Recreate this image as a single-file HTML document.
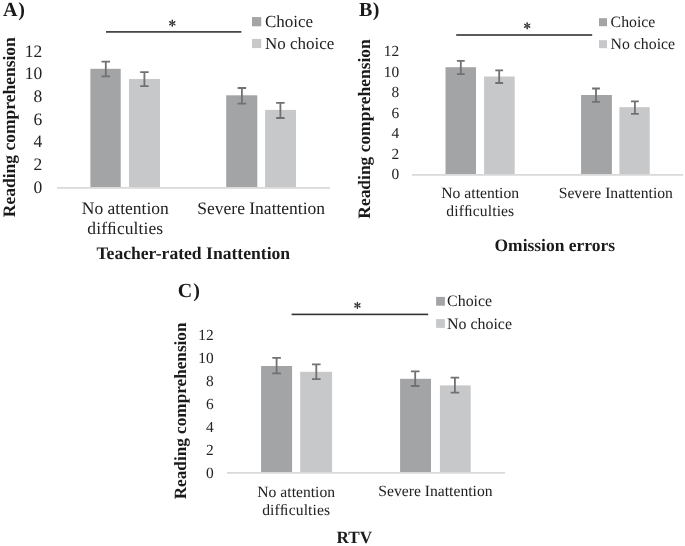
<!DOCTYPE html>
<html><head><meta charset="utf-8"><style>
html,body{margin:0;padding:0;background:#fff;width:685px;height:546px;overflow:hidden}
svg{display:block}
svg{will-change:transform}
text{text-rendering:geometricPrecision}
.r{font-family:"Liberation Serif",serif;fill:#222222}
.b{font-family:"Liberation Serif",serif;font-weight:bold;fill:#1a1a1a}
</style></head><body>
<svg width="685" height="546" viewBox="0 0 685 546">
<text x="2.9" y="15.8" class="b" font-size="20">A<tspan dx="0.9">)</tspan></text>
<text transform="translate(42.2,56.52) scale(1,1.0)" class="r" text-anchor="end" font-size="17.5">12</text>
<text transform="translate(42.2,79.23) scale(1,1.0)" class="r" text-anchor="end" font-size="17.5">10</text>
<text transform="translate(42.2,101.95) scale(1,1.0)" class="r" text-anchor="end" font-size="17.5">8</text>
<text transform="translate(42.2,124.67) scale(1,1.0)" class="r" text-anchor="end" font-size="17.5">6</text>
<text transform="translate(42.2,147.39) scale(1,1.0)" class="r" text-anchor="end" font-size="17.5">4</text>
<text transform="translate(42.2,170.11) scale(1,1.0)" class="r" text-anchor="end" font-size="17.5">2</text>
<text transform="translate(42.2,192.83) scale(1,1.0)" class="r" text-anchor="end" font-size="17.5">0</text>
<rect x="57" y="187" width="273" height="1.8" fill="#dadada"/>
<rect x="90.4" y="68.8" width="30.3" height="118.2" fill="#a3a4a6"/>
<rect x="129" y="79" width="31" height="108" fill="#c7c8ca"/>
<rect x="226.2" y="95.3" width="31.1" height="91.7" fill="#a3a4a6"/>
<rect x="265.1" y="109.9" width="30.9" height="77.1" fill="#c7c8ca"/>
<path d="M105.8 61.6V76.3M101.55 61.6H110.05M101.55 76.3H110.05" stroke="#717171" stroke-width="1.8" fill="none"/>
<path d="M144.4 72.1V86.1M140.15 72.1H148.65M140.15 86.1H148.65" stroke="#717171" stroke-width="1.8" fill="none"/>
<path d="M241.9 88V103.6M237.65 88H246.15M237.65 103.6H246.15" stroke="#717171" stroke-width="1.8" fill="none"/>
<path d="M280.4 102.9V118M276.15 102.9H284.65M276.15 118H284.65" stroke="#717171" stroke-width="1.8" fill="none"/>
<rect x="106" y="31.1" width="135.4" height="1.6" fill="#333333"/>
<path d="M172.3 20.15L172.3 26.35M169.62 21.7L174.98 24.8M174.98 21.7L169.62 24.8" stroke="#3a3a3a" stroke-width="1" stroke-linecap="round" fill="none"/>
<ellipse cx="172.3" cy="20.95" rx="0.75" ry="1.1" transform="rotate(0 172.3 20.95)" fill="#333"/>
<ellipse cx="174.29" cy="22.1" rx="0.75" ry="1.1" transform="rotate(60 174.29 22.1)" fill="#333"/>
<ellipse cx="170.31" cy="22.1" rx="0.75" ry="1.1" transform="rotate(-60 170.31 22.1)" fill="#333"/>
<ellipse cx="172.3" cy="25.55" rx="0.75" ry="1.1" transform="rotate(-180 172.3 25.55)" fill="#333"/>
<ellipse cx="170.31" cy="24.4" rx="0.75" ry="1.1" transform="rotate(-120 170.31 24.4)" fill="#333"/>
<ellipse cx="174.29" cy="24.4" rx="0.75" ry="1.1" transform="rotate(-240 174.29 24.4)" fill="#333"/>
<rect x="252" y="17.1" width="9.2" height="9.2" fill="#a3a4a6"/>
<rect x="252" y="38.9" width="9.2" height="9.2" fill="#c7c8ca"/>
<text transform="translate(265,27.3) scale(1,1.0)" class="r" font-size="17">Choice</text>
<text transform="translate(265,48.9) scale(1,1.0)" class="r" font-size="17">No choice</text>
<text transform="translate(125.3,213.7) scale(1,1.0)" class="r" text-anchor="middle" font-size="17.5">No attention</text>
<text letter-spacing="0.1" transform="translate(125.3,233.7) scale(1,1.0)" class="r" text-anchor="middle" font-size="17.5">difﬁculties</text>
<text transform="translate(261.2,213.6) scale(1,1.0)" class="r" text-anchor="middle" font-size="17.5">Severe Inattention</text>
<text x="193.3" y="259" class="b" text-anchor="middle" font-size="17.6">Teacher-rated Inattention</text>
<text transform="translate(14.5,127.2) rotate(-90)" x="0" y="0" class="b" text-anchor="middle" font-size="17.5">Reading comprehension</text>
<text x="359" y="16.4" class="b" font-size="20">B<tspan dx="0.5">)</tspan></text>
<text transform="translate(399.1,56.41) scale(1,1.0)" class="r" text-anchor="end" font-size="15.4">12</text>
<text transform="translate(399.1,76.91) scale(1,1.0)" class="r" text-anchor="end" font-size="15.4">10</text>
<text transform="translate(399.1,97.41) scale(1,1.0)" class="r" text-anchor="end" font-size="15.4">8</text>
<text transform="translate(399.1,117.91) scale(1,1.0)" class="r" text-anchor="end" font-size="15.4">6</text>
<text transform="translate(399.1,138.41) scale(1,1.0)" class="r" text-anchor="end" font-size="15.4">4</text>
<text transform="translate(399.1,158.91) scale(1,1.0)" class="r" text-anchor="end" font-size="15.4">2</text>
<text transform="translate(399.1,179.41) scale(1,1.0)" class="r" text-anchor="end" font-size="15.4">0</text>
<rect x="412" y="174" width="271" height="1.8" fill="#dadada"/>
<rect x="445.5" y="67.2" width="30.5" height="106.8" fill="#a3a4a6"/>
<rect x="484.1" y="76.5" width="30.6" height="97.5" fill="#c7c8ca"/>
<rect x="581.1" y="95" width="30.8" height="79" fill="#a3a4a6"/>
<rect x="619.4" y="107.2" width="30.3" height="66.8" fill="#c7c8ca"/>
<path d="M460.8 60.9V74.2M456.9 60.9H464.7M456.9 74.2H464.7" stroke="#717171" stroke-width="1.8" fill="none"/>
<path d="M499.2 70.4V83M495.3 70.4H503.1M495.3 83H503.1" stroke="#717171" stroke-width="1.8" fill="none"/>
<path d="M596 88.5V101.8M592.1 88.5H599.9M592.1 101.8H599.9" stroke="#717171" stroke-width="1.8" fill="none"/>
<path d="M634.9 101.4V113.9M631 101.4H638.8M631 113.9H638.8" stroke="#717171" stroke-width="1.8" fill="none"/>
<rect x="456.2" y="34.2" width="136" height="1.6" fill="#333333"/>
<path d="M527.2 22.7L527.2 28.9M524.52 24.25L529.88 27.35M529.88 24.25L524.52 27.35" stroke="#3a3a3a" stroke-width="1" stroke-linecap="round" fill="none"/>
<ellipse cx="527.2" cy="23.5" rx="0.75" ry="1.1" transform="rotate(0 527.2 23.5)" fill="#333"/>
<ellipse cx="529.19" cy="24.65" rx="0.75" ry="1.1" transform="rotate(60 529.19 24.65)" fill="#333"/>
<ellipse cx="525.21" cy="24.65" rx="0.75" ry="1.1" transform="rotate(-60 525.21 24.65)" fill="#333"/>
<ellipse cx="527.2" cy="28.1" rx="0.75" ry="1.1" transform="rotate(-180 527.2 28.1)" fill="#333"/>
<ellipse cx="525.21" cy="26.95" rx="0.75" ry="1.1" transform="rotate(-120 525.21 26.95)" fill="#333"/>
<ellipse cx="529.19" cy="26.95" rx="0.75" ry="1.1" transform="rotate(-240 529.19 26.95)" fill="#333"/>
<rect x="599" y="18.2" width="8" height="8" fill="#a3a4a6"/>
<rect x="599" y="40.2" width="8" height="8" fill="#c7c8ca"/>
<text transform="translate(610.6,27.2) scale(1,1.0)" class="r" font-size="15.8">Choice</text>
<text transform="translate(610.6,48.7) scale(1,1.0)" class="r" font-size="15.8">No choice</text>
<text transform="translate(480.2,198.3) scale(1,1.0)" class="r" text-anchor="middle" font-size="15.65">No attention</text>
<text letter-spacing="0.1" transform="translate(480.3,216.3) scale(1,1.0)" class="r" text-anchor="middle" font-size="15.65">difﬁculties</text>
<text transform="translate(615.8,198.4) scale(1,1.0)" class="r" text-anchor="middle" font-size="15.65">Severe Inattention</text>
<text x="554.8" y="250.8" class="b" text-anchor="middle" font-size="17.5">Omission errors</text>
<text transform="translate(369.8,129) rotate(-90)" x="0" y="0" class="b" text-anchor="middle" font-size="17.45">Reading comprehension</text>
<text x="177.7" y="297.4" class="b" font-size="20">C<tspan dx="1.2">)</tspan></text>
<text transform="translate(213.7,339.81) scale(1,1.0)" class="r" text-anchor="end" font-size="15.4">12</text>
<text transform="translate(213.7,362.76) scale(1,1.0)" class="r" text-anchor="end" font-size="15.4">10</text>
<text transform="translate(213.7,385.71) scale(1,1.0)" class="r" text-anchor="end" font-size="15.4">8</text>
<text transform="translate(213.7,408.66) scale(1,1.0)" class="r" text-anchor="end" font-size="15.4">6</text>
<text transform="translate(213.7,431.61) scale(1,1.0)" class="r" text-anchor="end" font-size="15.4">4</text>
<text transform="translate(213.7,454.56) scale(1,1.0)" class="r" text-anchor="end" font-size="15.4">2</text>
<text transform="translate(213.7,477.51) scale(1,1.0)" class="r" text-anchor="end" font-size="15.4">0</text>
<rect x="227" y="472" width="278" height="1.8" fill="#dadada"/>
<rect x="261.1" y="366" width="31" height="106" fill="#a3a4a6"/>
<rect x="300.2" y="371.8" width="31.9" height="100.2" fill="#c7c8ca"/>
<rect x="400.1" y="378.8" width="30.9" height="93.2" fill="#a3a4a6"/>
<rect x="439.9" y="385.4" width="30.8" height="86.6" fill="#c7c8ca"/>
<path d="M276.6 357.9V373.4M272.3 357.9H280.9M272.3 373.4H280.9" stroke="#717171" stroke-width="1.8" fill="none"/>
<path d="M316.3 364.4V379.2M312 364.4H320.6M312 379.2H320.6" stroke="#717171" stroke-width="1.8" fill="none"/>
<path d="M415.2 371.4V386M410.9 371.4H419.5M410.9 386H419.5" stroke="#717171" stroke-width="1.8" fill="none"/>
<path d="M454.9 377.7V392.6M450.6 377.7H459.2M450.6 392.6H459.2" stroke="#717171" stroke-width="1.8" fill="none"/>
<rect x="291.6" y="313.6" width="136.6" height="1.6" fill="#333333"/>
<path d="M357.4 302.25L357.4 308.45M354.72 303.8L360.08 306.9M360.08 303.8L354.72 306.9" stroke="#3a3a3a" stroke-width="1" stroke-linecap="round" fill="none"/>
<ellipse cx="357.4" cy="303.05" rx="0.75" ry="1.1" transform="rotate(0 357.4 303.05)" fill="#333"/>
<ellipse cx="359.39" cy="304.2" rx="0.75" ry="1.1" transform="rotate(60 359.39 304.2)" fill="#333"/>
<ellipse cx="355.41" cy="304.2" rx="0.75" ry="1.1" transform="rotate(-60 355.41 304.2)" fill="#333"/>
<ellipse cx="357.4" cy="307.65" rx="0.75" ry="1.1" transform="rotate(-180 357.4 307.65)" fill="#333"/>
<ellipse cx="355.41" cy="306.5" rx="0.75" ry="1.1" transform="rotate(-120 355.41 306.5)" fill="#333"/>
<ellipse cx="359.39" cy="306.5" rx="0.75" ry="1.1" transform="rotate(-240 359.39 306.5)" fill="#333"/>
<rect x="436.1" y="296.9" width="8.8" height="8.8" fill="#a3a4a6"/>
<rect x="436.1" y="319.1" width="8.8" height="8.8" fill="#c7c8ca"/>
<text transform="translate(447.1,306.3) scale(1,1.0)" class="r" font-size="15.9">Choice</text>
<text transform="translate(447.1,328.6) scale(1,1.0)" class="r" font-size="15.9">No choice</text>
<text transform="translate(296.2,496.6) scale(1,1.0)" class="r" text-anchor="middle" font-size="15.65">No attention</text>
<text letter-spacing="0.1" transform="translate(296.2,515.2) scale(1,1.0)" class="r" text-anchor="middle" font-size="15.65">difﬁculties</text>
<text transform="translate(435.45,496.3) scale(1,1.0)" class="r" text-anchor="middle" font-size="15.65">Severe Inattention</text>
<text x="354.25" y="542.6" class="b" text-anchor="middle" font-size="17.2">RTV</text>
<text transform="translate(186.1,410.9) rotate(-90)" x="0" y="0" class="b" text-anchor="middle" font-size="17.2">Reading comprehension</text>
</svg>
</body></html>
